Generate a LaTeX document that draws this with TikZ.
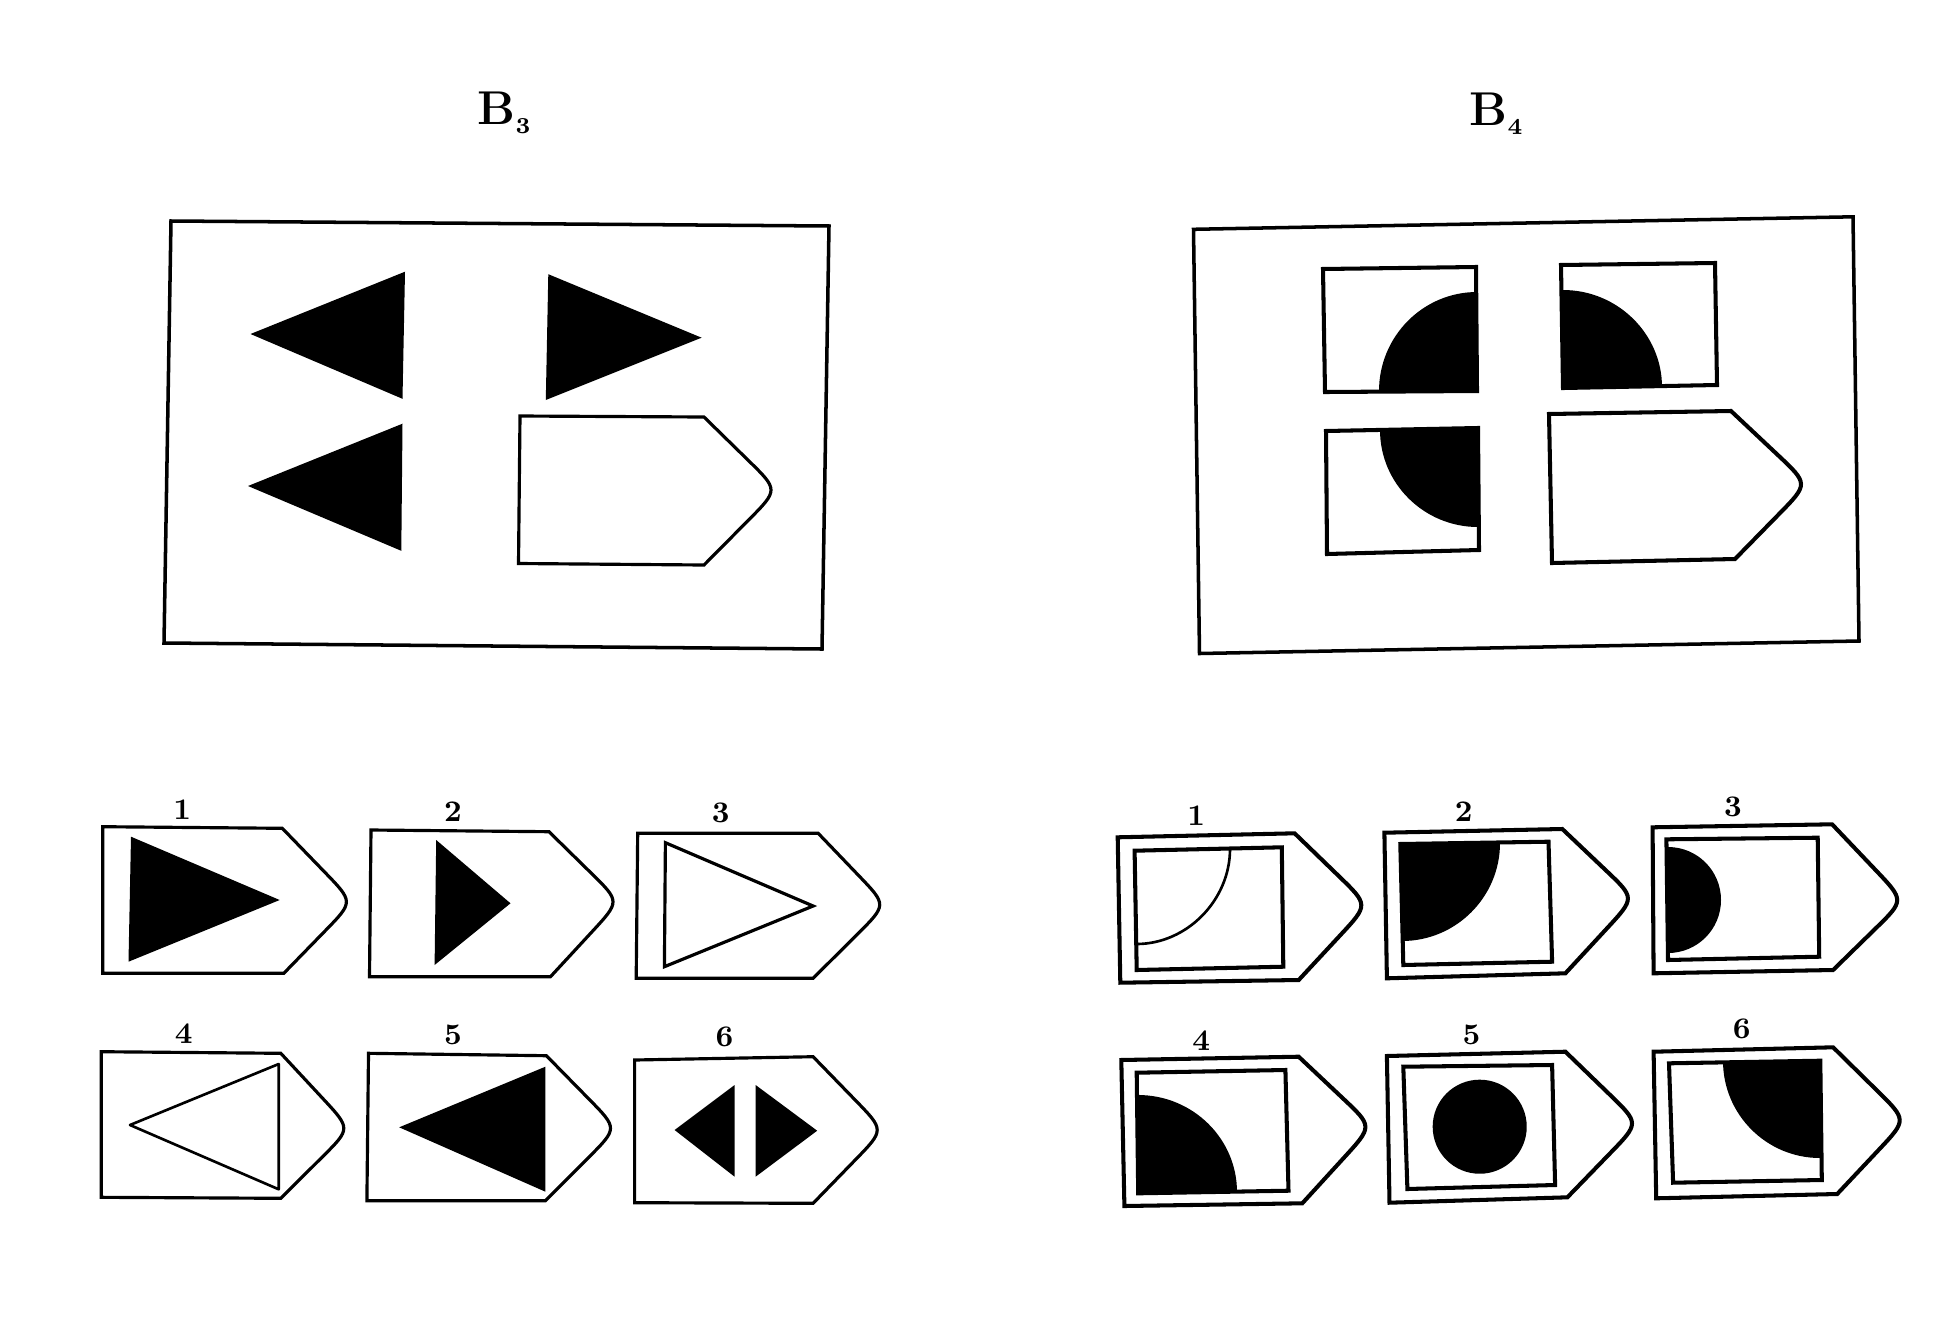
\documentclass[tikz,border=0pt]{standalone}
\usetikzlibrary{calc}
\tikzset{
  frame/.style={line width=1pt},
  shp/.style={line width=0.9pt},
  shpthick/.style={line width=1.15pt},
  thinline/.style={line width=0.75pt, line join=round},
  blk/.style={fill=black},
  lbl/.style={font=\fontsize{8.5}{10}\selectfont\bfseries, inner sep=0pt},
  ttl/.style={font=\fontsize{13.5}{15}\selectfont\bfseries, inner sep=0pt, anchor=base west},
}
% #1 style, #2 name, #3 TL, #4 top corner, #5 tip, #6 bottom corner, #7 BL
\newcommand\pentshape[7]{%
  \coordinate (#2tl) at (#3);
  \coordinate (#2ca) at (#4);
  \coordinate (#2t) at (#5);
  \coordinate (#2cb) at (#6);
  \coordinate (#2bl) at (#7);
  \coordinate (#2v) at ($($(#2ca)!0.5!(#2cb)$)!1.111!(#2t)$);
  \draw[#1] (#2tl) -- (#2ca) -- ($(#2ca)!0.6!(#2v)$) .. controls (#2v) .. ($(#2cb)!0.6!(#2v)$) -- (#2cb) -- (#2bl) -- cycle;
}
\begin{document}
\begin{tikzpicture}[x=0.01cm, y=-0.01cm]
\useasboundingbox (0,0) rectangle (1954,1336);

% ---------- titles ----------
\node[ttl] (t3) at (477,124) {B\raisebox{-2.6pt}{\fontsize{6.5}{7}\selectfont 3}};
\node[ttl] (t4) at (1469,125) {B\raisebox{-2.6pt}{\fontsize{6.5}{7}\selectfont 4}};

% ---------- B3 panel ----------
\draw[frame] (171,221) -- (829,226) -- (822,649) -- (164,643) -- cycle;
\fill[blk] (250.5,334) -- (405,271.7) -- (402.5,398.8) -- cycle;
\fill[blk] (548.3,274.2) -- (701.6,337.7) -- (545.8,400) -- cycle;
\fill[blk] (248,486) -- (402.5,423.7) -- (401.3,550.8) -- cycle;
\pentshape{shp}{pz}{520,416}{704,417}{771,490}{704,565}{518.5,563.5}

% ---------- B4 panel ----------
\draw[frame] (1193.5,229.3) -- (1853,216.8) -- (1859,641) -- (1199.5,653.5) -- cycle;
% square 1 (top left)
\fill[blk] (1477,391) -- (1477,292) .. controls (1423,292) and (1379,336.4) .. (1379,391) -- cycle;
\draw[shpthick] (1323,269) -- (1476,267) -- (1477,391) -- (1325,392) -- cycle;
% square 2 (top right)
\fill[blk] (1563,388) -- (1563,290) .. controls (1617.6,290) and (1662,334) .. (1662,387) -- cycle;
\draw[shpthick] (1561,265) -- (1715,263) -- (1717,385) -- (1563,388) -- cycle;
% square 3 (bottom left)
\fill[blk] (1478,429) -- (1380,430) .. controls (1380,483.5) and (1424,527) .. (1478,527) -- cycle;
\draw[shpthick] (1326,431) -- (1478,428) -- (1479,550) -- (1327,554) -- cycle;
\pentshape{shpthick}{py}{1549,414}{1731,411}{1801,484}{1735,559}{1552,563}

% ---------- B3 answers ----------
\node[lbl] (a1) at (182.3,810) {1};
\pentshape{shp}{pa}{102.8,826.7}{282.3,828.3}{346.4,901.7}{283.8,973.3}{102.8,973.3}
\fill[blk] (131,836.7) -- (279.7,900) -- (128.5,961.7) -- cycle;

\node[lbl] (a2) at (453,811.7) {2};
\pentshape{shp}{pb}{371,830}{549,831.7}{613,901.7}{550.5,976.7}{369.5,976.7}
\fill[blk] (436.2,840) -- (510.5,903.3) -- (434.6,965) -- cycle;

\node[lbl] (a3) at (720.8,813.3) {3};
\pentshape{shp}{pc}{637.7,833.3}{818.2,833.3}{879.7,905}{813.1,978.3}{636.2,978.3}
\draw[shp] (665.4,842.7) -- (813.1,906) -- (664.4,966.7) -- cycle;

\node[lbl] (a4) at (183.8,1033.3) {4};
\pentshape{shp}{pd}{101.3,1051.7}{280.8,1053.3}{343.8,1128.3}{280.8,1198.3}{101.3,1197.3}
\draw[thinline] (130,1125) -- (278.7,1064) -- (278.7,1189.3) -- cycle;

\node[lbl] (a5) at (453,1035) {5};
\pentshape{shp}{pe}{368.5,1053.3}{546.4,1055.7}{610.5,1128.3}{545.4,1200.7}{366.9,1200.7}
\fill[blk] (399.2,1127.3) -- (545.4,1066.7) -- (545.4,1191.7) -- cycle;

\node[lbl] (a6) at (724.4,1036.7) {6};
\pentshape{shp}{pf}{634.6,1060}{813.1,1056.7}{877.2,1130}{813.1,1203.3}{634.6,1202.7}
\fill[blk] (674.6,1130) -- (734.6,1085) -- (734.6,1176.7) -- cycle;
\fill[blk] (755.6,1085) -- (817.2,1130.7) -- (755.6,1176.7) -- cycle;

% ---------- B4 answers ----------
\node[lbl] (b1) at (1196.2,816) {1};
\pentshape{shpthick}{qa}{1117.7,837.3}{1294.6,833.3}{1361.3,905}{1298.7,980}{1120.3,982.7}
\draw[shpthick] (1134.6,850.7) -- (1281.8,847.3) -- (1283.3,966.7) -- (1136.7,970) -- cycle;
\draw[thinline] (1230,849) .. controls (1230,900) and (1187,944) .. (1136.5,944);

\node[lbl] (b2) at (1463.8,811.7) {2};
\pentshape{shpthick}{qb}{1384.4,832.7}{1562.3,829}{1627.9,898.3}{1565.4,973.3}{1386.9,978.3}
\fill[blk] (1401,843) -- (1500,843) .. controls (1500,897) and (1456,941) .. (1402,941) -- cycle;
\draw[shpthick] (1400.3,844) -- (1548.5,841.7) -- (1552.1,961.7) -- (1403.3,965) -- cycle;

\node[lbl] (b3) at (1733,806.7) {3};
\pentshape{shpthick}{qc}{1652.6,827.3}{1832.1,824.3}{1897.2,900}{1833.1,970}{1653.6,973.3}
\fill[blk] (1668,847) .. controls (1697.3,847) and (1721,870.7) .. (1721,900) .. controls (1721,929.3) and (1697.3,953) .. (1668,953) -- cycle;
\draw[shpthick] (1666.4,839.3) -- (1817.7,837.7) -- (1819.2,956.7) -- (1668,960) -- cycle;

\node[lbl] (b4) at (1201.3,1040.7) {4};
\pentshape{shpthick}{qd}{1121.3,1060}{1298.7,1056.7}{1365.4,1126.7}{1302.3,1203.3}{1124.4,1206}
\fill[blk] (1138,1192) -- (1138,1095) .. controls (1192.6,1095) and (1237,1138.5) .. (1237,1192) -- cycle;
\draw[shpthick] (1136.7,1072.7) -- (1285.4,1070) -- (1288.5,1190.7) -- (1138.2,1193.3) -- cycle;

\node[lbl] (b5) at (1471.5,1035) {5};
\pentshape{shpthick}{qe}{1386.9,1056}{1565.4,1051.7}{1632,1123.3}{1567.4,1197.3}{1389.5,1202.7}
\fill[blk] (1479.7,1126.7) ellipse [x radius=0.47cm, y radius=0.47cm];
\draw[shpthick] (1403.3,1066.7) -- (1552.1,1065) -- (1555.1,1185) -- (1407.4,1189) -- cycle;

\node[lbl] (b6) at (1741.8,1029.3) {6};
\pentshape{shpthick}{qf}{1653.6,1051.7}{1833.1,1047.3}{1899.7,1120}{1837.2,1194}{1656.2,1198.3}
\fill[blk] (1820,1061) -- (1723,1061) .. controls (1723,1114.5) and (1766.5,1158) .. (1820,1158) -- cycle;
\draw[shpthick] (1669,1063.3) -- (1820.3,1060.7) -- (1821.8,1180) -- (1673.1,1182.7) -- cycle;
\end{tikzpicture}
\end{document}
